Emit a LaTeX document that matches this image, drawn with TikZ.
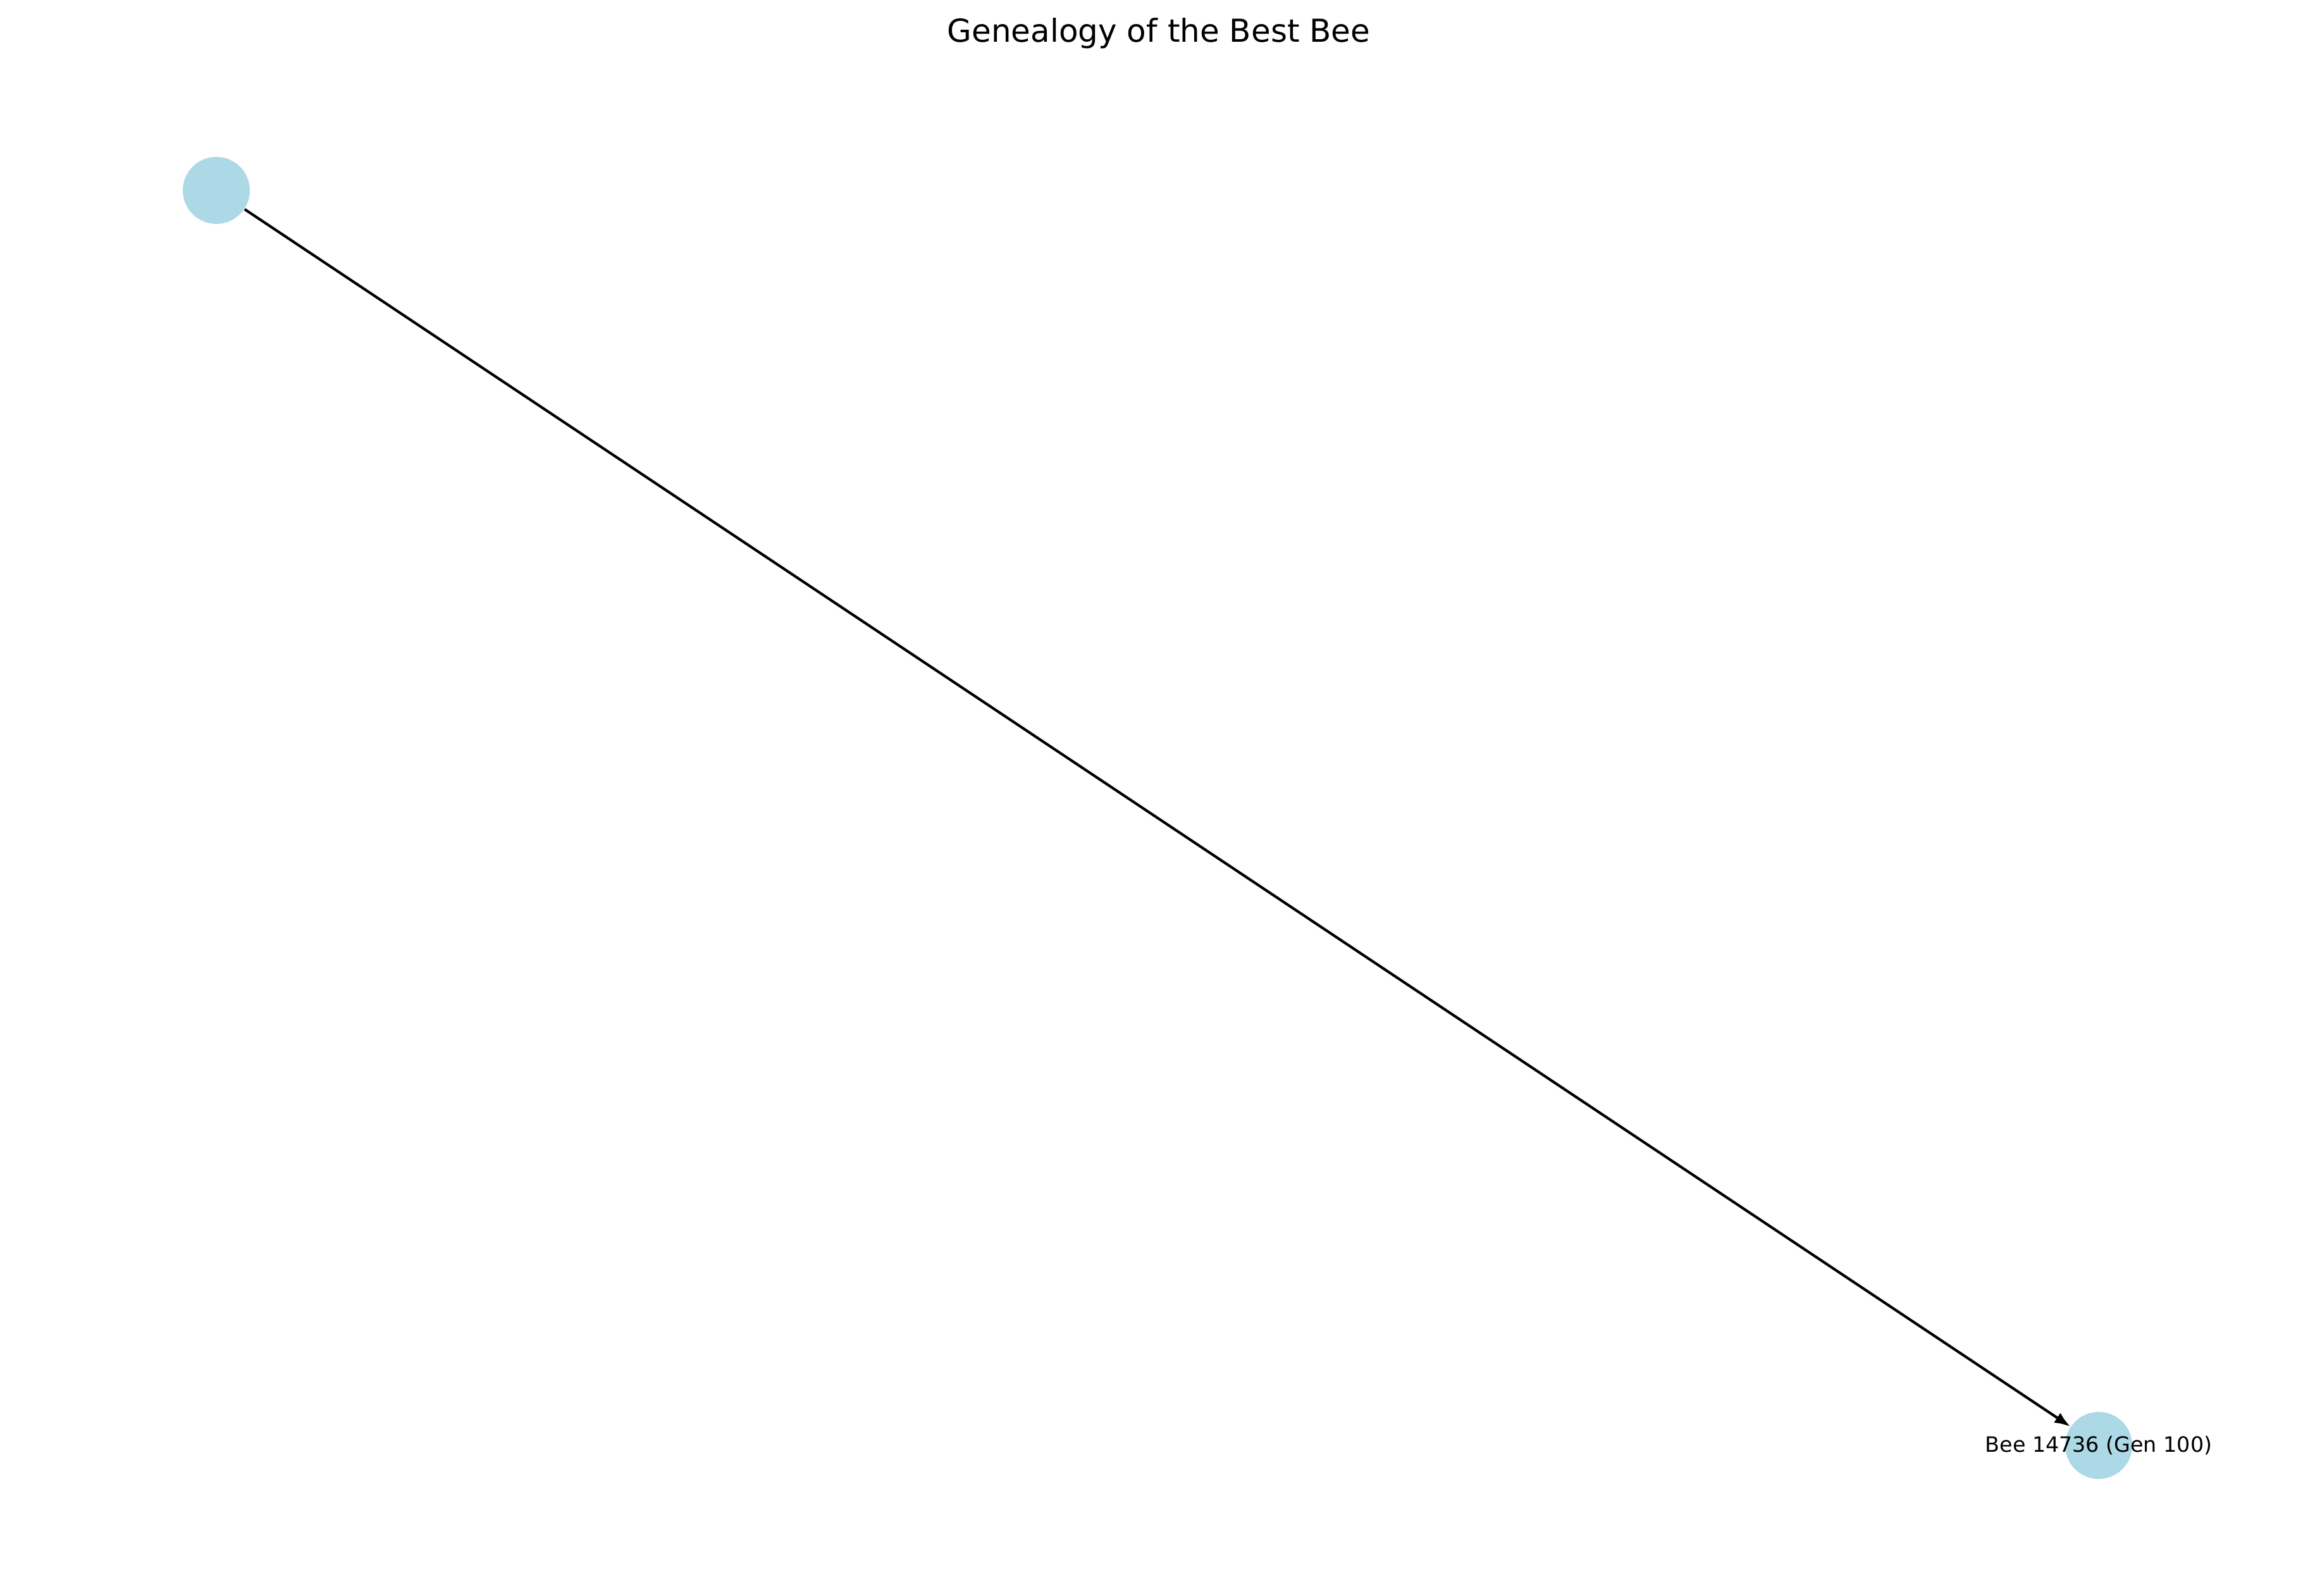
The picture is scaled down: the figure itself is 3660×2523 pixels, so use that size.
\documentclass[tikz,border=0pt]{standalone}
\usepackage{fontspec}
\setmainfont{DejaVu Sans}
\usepackage{tikz}
\usetikzlibrary{arrows.meta,positioning}
\definecolor{bienenblau}{HTML}{ADD8E6}
\newlength{\px}
\setlength{\px}{0.24pt}
\tikzset{
  biene/.style={circle,fill=bienenblau,minimum size=106\px,inner sep=0pt},
  kante/.style={line width=1pt,-{Latex[length=6pt,width=4.5pt]}},
}
\begin{document}
\begin{tikzpicture}[x=\px,y=-\px]
%Bildgroesse wie die Vorlage (Pixel)
\useasboundingbox (0,0) rectangle (3660,2523);
\node[anchor=base,font=\fontsize{12pt}{14pt}\selectfont] (titel) at (1832,67) {Genealogy of the Best Bee};
\node[biene] (vorfahr) at (342,301) {};
\node[biene] (bester) at (3318,2285) {};
\node[font=\fontsize{8pt}{10pt}\selectfont] (name) at (bester) {Bee 14736 (Gen 100)};
\draw[kante] (vorfahr) -- (bester);
\end{tikzpicture}
\end{document}
